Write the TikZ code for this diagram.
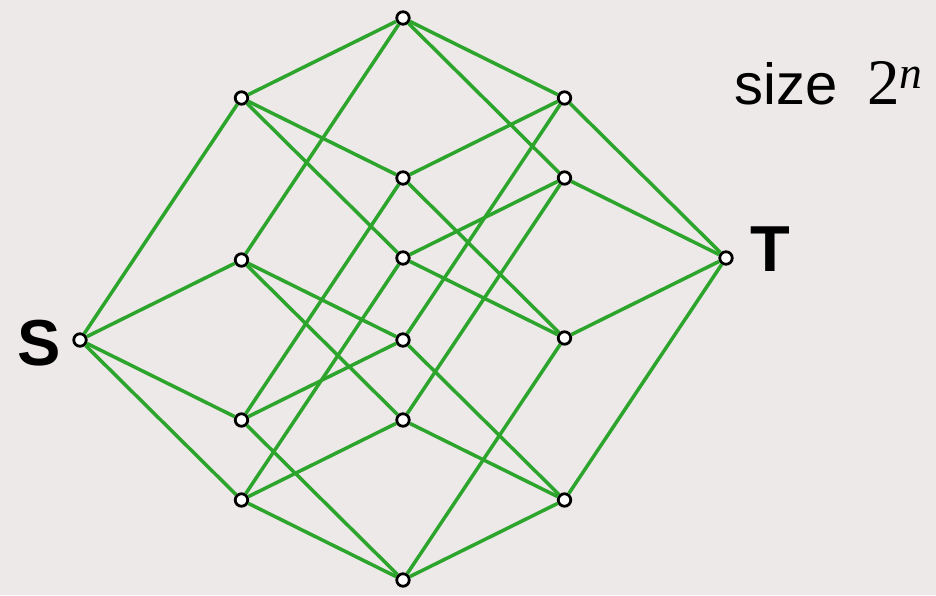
\documentclass[tikz,border=0pt]{standalone}
\usepackage{fontspec}
\setmainfont{Liberation Sans}
\newfontfamily\serifft{Liberation Serif}
\definecolor{bgc}{RGB}{238,233,233}
\definecolor{edgec}{RGB}{45,165,45}
\begin{document}
\begin{tikzpicture}[x=0.02cm,y=-0.02cm,
  vtx/.style={circle,draw=black,fill=white,line width=1.6pt,inner sep=0pt,minimum size=0.25cm},
  edg/.style={draw=edgec,line width=2pt},
  lbl/.style={font=\fontsize{37}{40}\selectfont\bfseries,inner sep=0pt}]
\fill[bgc] (0,0) rectangle (936,595);
\useasboundingbox (0,0) rectangle (936,595);
% vertices of the 4-cube
\node[vtx] (v0000) at (80,340) {};
\node[vtx] (v1000) at (241.5,98) {};
\node[vtx] (v0100) at (241.5,260) {};
\node[vtx] (v0010) at (241.5,420) {};
\node[vtx] (v0001) at (241.5,500) {};
\node[vtx] (v1100) at (403,18) {};
\node[vtx] (v1010) at (403,178) {};
\node[vtx] (v1001) at (403,258) {};
\node[vtx] (v0110) at (403,340) {};
\node[vtx] (v0101) at (403,420) {};
\node[vtx] (v0011) at (403,580) {};
\node[vtx] (v1110) at (564.5,98) {};
\node[vtx] (v1101) at (564.5,178) {};
\node[vtx] (v1011) at (564.5,338) {};
\node[vtx] (v0111) at (564.5,500) {};
\node[vtx] (v1111) at (726,258) {};
% edges
\foreach \u/\v in {0000/1000,0000/0100,0000/0010,0000/0001,
  1000/1100,1000/1010,1000/1001,
  0100/1100,0100/0110,0100/0101,
  0010/1010,0010/0110,0010/0011,
  0001/1001,0001/0101,0001/0011,
  1100/1110,1100/1101,
  1010/1110,1010/1011,
  1001/1101,1001/1011,
  0110/1110,0110/0111,
  0101/1101,0101/0111,
  0011/1011,0011/0111,
  1110/1111,1101/1111,1011/1111,0111/1111}
  \draw[edg] (v\u) -- (v\v);
% labels
\node[lbl,anchor=east] (S) at (61,343) {S};
\node[lbl,anchor=west] (T) at (750,249) {T};
\node[inner sep=0pt,anchor=base west,font=\fontsize{33}{35}\selectfont] (size) at (734,104)
  {size\hspace{17pt}{\serifft\fontsize{37}{39}\selectfont 2\textsuperscript{\itshape n}}};
\end{tikzpicture}
\end{document}
